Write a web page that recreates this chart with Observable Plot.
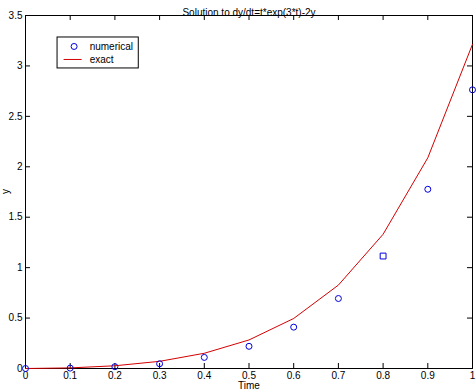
<!DOCTYPE html>
<html>
<head>
<meta charset="utf-8">
<script src="https://cdn.jsdelivr.net/npm/d3@7"></script>
<script src="https://cdn.jsdelivr.net/npm/@observablehq/plot@0.6"></script>
<style>
  html, body { margin: 0; padding: 0; background: #fff; }
  svg { display: block; }
</style>
</head>
<body>
<div id="chart"></div>
<script>
const title = "Solution to dy/dt=t*exp(3*t)-2y";
const xLabel = "Time";
const yLabel = "y";
const times = [0, 0.1, 0.2, 0.3, 0.4, 0.5, 0.6, 0.7, 0.8, 0.9, 1.0];
const numerical = [0, 0.004, 0.018, 0.047, 0.11, 0.22, 0.41, 0.694, 1.115, 1.777, 2.763];
const exact = [0, 0.006, 0.027, 0.071, 0.151, 0.283, 0.496, 0.827, 1.331, 2.089, 3.215];
const xTicks = [0, 0.1, 0.2, 0.3, 0.4, 0.5, 0.6, 0.7, 0.8, 0.9, 1];
const yTicks = [0, 0.5, 1, 1.5, 2, 2.5, 3, 3.5];
const legendLabels = ["numerical", "exact"];

const numData = times.map((t, i) => ({t, y: numerical[i]}));
const exData = times.map((t, i) => ({t, y: exact[i]}));

const W = 476, H = 392;
const mL = 25, mR = 4, mT = 15, mB = 24;
const fw = W - mL - mR, fh = H - mT - mB;
const tick = 5;
const font = "Liberation Sans, Arial, Helvetica, sans-serif";

const chart = Plot.plot({
  width: W,
  height: H,
  marginLeft: mL,
  marginRight: mR,
  marginTop: mT,
  marginBottom: mB,
  style: {fontFamily: font, fontSize: "10px", background: "#fff", color: "#000", overflow: "visible"},
  x: {domain: [0, 1], ticks: xTicks, label: null},
  y: {domain: [0, 3.5], ticks: yTicks, label: null},
  marks: [
    // inward ticks on all four sides
    Plot.ruleX(xTicks, {x: d => d, stroke: "#000", insetTop: fh - tick}),
    Plot.ruleX(xTicks, {x: d => d, stroke: "#000", insetBottom: fh - tick}),
    Plot.ruleY(yTicks, {y: d => d, stroke: "#000", insetRight: fw - tick}),
    Plot.ruleY(yTicks, {y: d => d, stroke: "#000", insetLeft: fw - tick}),
    Plot.axisX({ticks: xTicks, tickSize: 0, tickPadding: 3, tickFormat: d => String(d), label: null, fontSize: 10}),
    Plot.axisY({ticks: yTicks, tickSize: 0, tickPadding: 3, tickFormat: d => String(d), label: null, fontSize: 10}),
    Plot.frame({stroke: "#000", strokeWidth: 1}),
    // data
    Plot.line(exData, {x: "t", y: "y", stroke: "#d40000", strokeWidth: 1}),
    Plot.dot(numData.filter(d => d.t !== 0.8), {x: "t", y: "y", r: 3, stroke: "#0000dd", fill: "none", strokeWidth: 1}),
    Plot.dot(numData.filter(d => d.t === 0.8), {x: "t", y: "y", r: 3.3, symbol: "square", stroke: "#0000dd", fill: "none", strokeWidth: 1}),
    // titles
    Plot.text([title], {frameAnchor: "top", dy: -7, fontSize: 10, fill: "#000"}),
    Plot.text([xLabel], {frameAnchor: "bottom", dy: 20, fontSize: 10, fill: "#000"}),
    Plot.text([yLabel], {frameAnchor: "left", dx: -20, dy: 2, rotate: -90, fontSize: 10, fill: "#000"}),
    // legend
    Plot.rect([0], {x1: 0.0717, x2: 0.2534, y1: 2.975, y2: 3.282, fill: "#fff", stroke: "#000", strokeWidth: 1}),
    Plot.dot([0], {x: () => 0.1087, y: () => 3.193, r: 3, stroke: "#0000dd", fill: "none", strokeWidth: 1}),
    Plot.link([0], {x1: () => 0.0852, x2: () => 0.1256, y1: () => 3.064, y2: () => 3.064, stroke: "#d40000"}),
    Plot.text([legendLabels[0]], {x: () => 0.1435, y: () => 3.193, textAnchor: "start", fontSize: 10, fill: "#000"}),
    Plot.text([legendLabels[1]], {x: () => 0.1435, y: () => 3.064, textAnchor: "start", fontSize: 10, fill: "#000"})
  ]
});
document.getElementById("chart").appendChild(chart);
</script>
</body>
</html>
